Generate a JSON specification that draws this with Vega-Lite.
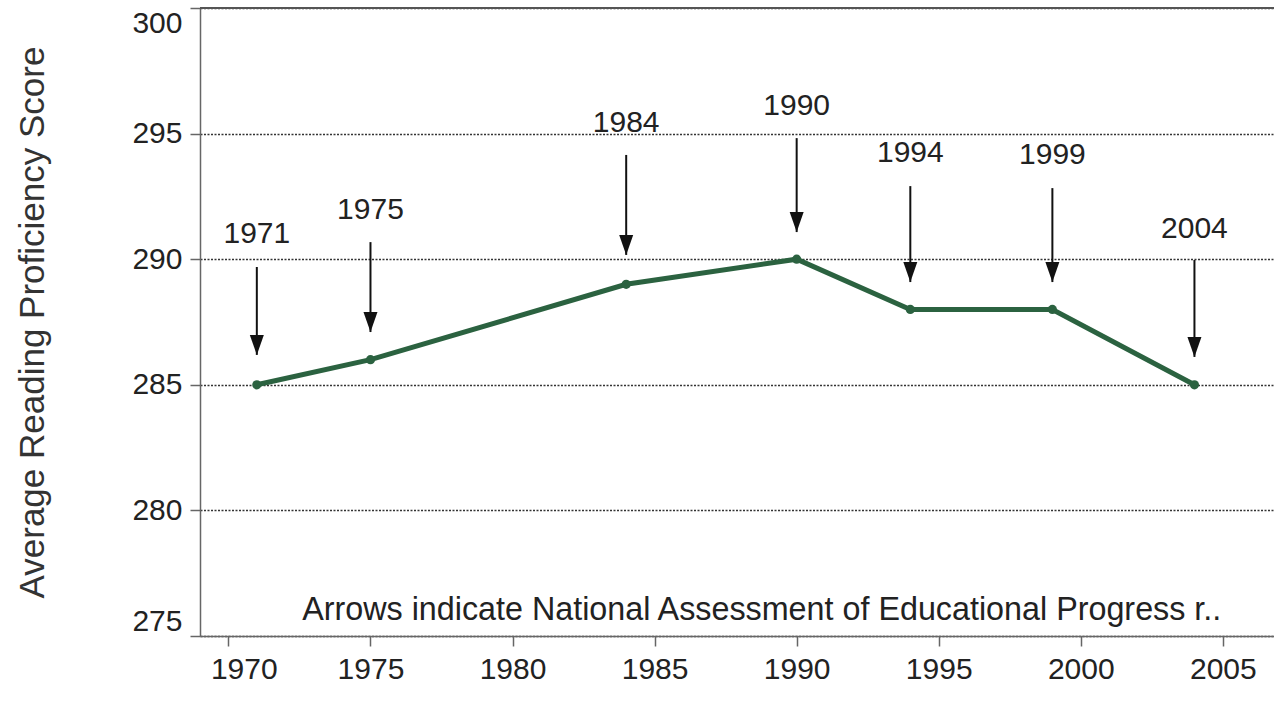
{
  "$schema": "https://vega.github.io/schema/vega-lite/v6.json",
  "width": 1074,
  "height": 628,
  "autosize": "none",
  "padding": {"left": 200, "top": 8, "right": 0, "bottom": 76},
  "background": "white",
  "config": {
    "view": {"stroke": null},
    "font": "Liberation Sans",
    "text": {"font": "Liberation Sans"}
  },
  "datasets": {
    "scores": [
      {"year": 1971, "score": 285},
      {"year": 1975, "score": 286},
      {"year": 1984, "score": 289},
      {"year": 1990, "score": 290},
      {"year": 1994, "score": 288},
      {"year": 1999, "score": 288},
      {"year": 2004, "score": 285}
    ],
    "arrows": [
      {"year": 1971, "label": "1971", "labelY": 291.0, "top": 289.69, "tip": 286.19},
      {"year": 1975, "label": "1975", "labelY": 291.96, "top": 290.68, "tip": 287.1},
      {"year": 1984, "label": "1984", "labelY": 295.44, "top": 294.15, "tip": 290.17},
      {"year": 1990, "label": "1990", "labelY": 296.1, "top": 294.82, "tip": 291.08},
      {"year": 1994, "label": "1994", "labelY": 294.23, "top": 292.91, "tip": 289.09},
      {"year": 1999, "label": "1999", "labelY": 294.15, "top": 292.83, "tip": 289.09},
      {"year": 2004, "label": "2004", "labelY": 291.2, "top": 289.97, "tip": 286.11}
    ],
    "note": [
      {"year": 1988.77, "y": 275.64, "text": "Arrows indicate National Assessment of Educational Progress r.."}
    ]
  },
  "layer": [
    {
      "data": {"name": "scores"},
      "mark": {"type": "line", "color": "#2b6240", "strokeWidth": 5},
      "encoding": {
        "x": {
          "field": "year", "type": "quantitative",
          "scale": {"domain": [1969, 2006.8], "nice": false, "zero": false},
          "axis": {
            "values": [1970, 1975, 1980, 1985, 1990, 1995, 2000, 2005],
            "format": "d",
            "title": null,
            "grid": false,
            "domainColor": "#666",
            "domainWidth": 1.5,
            "tickColor": "#666",
            "tickWidth": 1.5,
            "tickSize": 10,
            "labelFontSize": 30,
            "labelColor": "#222",
            "labelPadding": 8,
            "labelFlush": 30,
            "labelFlushOffset": 18
          }
        },
        "y": {
          "field": "score", "type": "quantitative",
          "scale": {"domain": [275, 300], "nice": false, "zero": false},
          "axis": {
            "values": [275, 280, 285, 290, 295, 300],
            "title": "Average Reading Proficiency Score",
            "titleFontSize": 35,
            "titleFontWeight": "normal",
            "titleColor": "#333",
            "titleAngle": 270,
            "titleAlign": "center",
            "titleBaseline": "alphabetic",
            "titleX": -157,
            "titleY": 314,
            "grid": true,
            "gridColor": "#333",
            "gridDash": [2, 1.5],
            "gridWidth": 1.5,
            "domainColor": "#666",
            "domainWidth": 1.5,
            "tickColor": "#666",
            "tickWidth": 1.5,
            "tickSize": 10,
            "labelFontSize": 30,
            "labelColor": "#222",
            "labelPadding": 8,
            "labelFlush": true
          }
        }
      }
    },
    {
      "data": {"values": [{}]},
      "mark": {"type": "rule", "color": "#555", "strokeWidth": 2},
      "encoding": {
        "y": {"datum": 300, "type": "quantitative", "scale": {"domain": [275, 300], "nice": false, "zero": false}}
      }
    },
    {
      "data": {"name": "scores"},
      "mark": {"type": "point", "shape": "circle", "filled": true, "color": "#2b6240", "size": 85, "opacity": 1},
      "encoding": {
        "x": {"field": "year", "type": "quantitative", "scale": {"domain": [1969, 2006.8], "nice": false, "zero": false}},
        "y": {"field": "score", "type": "quantitative", "scale": {"domain": [275, 300], "nice": false, "zero": false}}
      }
    },
    {
      "data": {"name": "arrows"},
      "mark": {"type": "rule", "color": "#111", "strokeWidth": 2},
      "encoding": {
        "x": {"field": "year", "type": "quantitative", "scale": {"domain": [1969, 2006.8], "nice": false, "zero": false}},
        "y": {"field": "top", "type": "quantitative", "scale": {"domain": [275, 300], "nice": false, "zero": false}},
        "y2": {"field": "tip"}
      }
    },
    {
      "data": {"name": "arrows"},
      "mark": {"type": "point", "shape": "M-0.7,-2L0.7,-2L0,0Z", "filled": true, "color": "#111", "size": 400, "opacity": 1, "strokeWidth": 0},
      "encoding": {
        "x": {"field": "year", "type": "quantitative", "scale": {"domain": [1969, 2006.8], "nice": false, "zero": false}},
        "y": {"field": "tip", "type": "quantitative", "scale": {"domain": [275, 300], "nice": false, "zero": false}}
      }
    },
    {
      "data": {"name": "arrows"},
      "mark": {"type": "text", "fontSize": 30, "color": "#222", "align": "center", "baseline": "middle"},
      "encoding": {
        "x": {"field": "year", "type": "quantitative", "scale": {"domain": [1969, 2006.8], "nice": false, "zero": false}},
        "y": {"field": "labelY", "type": "quantitative", "scale": {"domain": [275, 300], "nice": false, "zero": false}},
        "text": {"field": "label"}
      }
    },
    {
      "data": {"name": "note"},
      "mark": {"type": "text", "fontSize": 32.3, "color": "#222", "align": "center", "baseline": "alphabetic"},
      "encoding": {
        "x": {"field": "year", "type": "quantitative", "scale": {"domain": [1969, 2006.8], "nice": false, "zero": false}},
        "y": {"field": "y", "type": "quantitative", "scale": {"domain": [275, 300], "nice": false, "zero": false}},
        "text": {"field": "text"}
      }
    }
  ]
}
